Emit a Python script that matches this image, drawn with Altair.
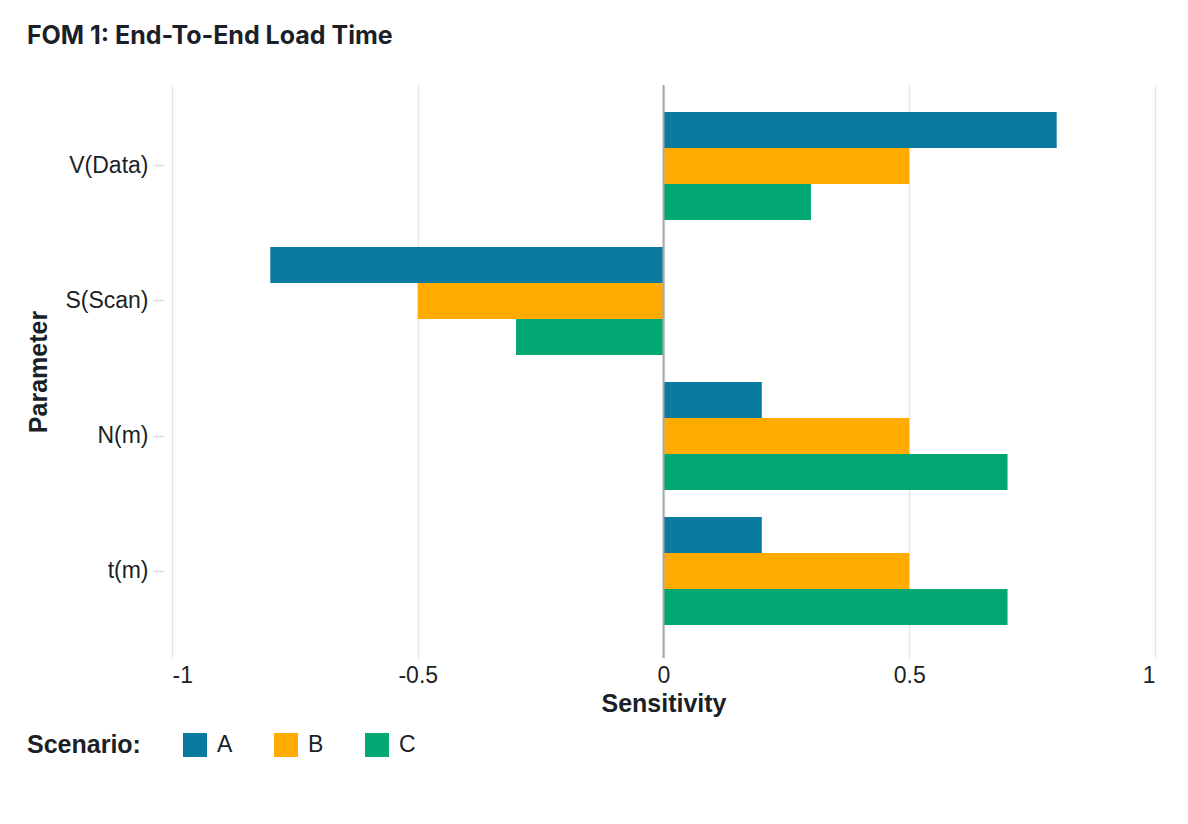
import altair as alt
import pandas as pd

params = ["V(Data)", "S(Scan)", "N(m)", "t(m)"]
scenarios = ["A", "B", "C"]
values_a = [0.8, -0.8, 0.2, 0.2]
values_b = [0.5, -0.5, 0.5, 0.5]
values_c = [0.3, -0.3, 0.7, 0.7]
colors = ["#0b7a9f", "#ffab00", "#02a874"]
x_ticks = [-1, -0.5, 0, 0.5, 1]

rows = []
for s, vals in zip(scenarios, [values_a, values_b, values_c]):
    for p, v in zip(params, vals):
        rows.append({"Parameter": p, "Scenario": s, "Sensitivity": v})
df = pd.DataFrame(rows)

font = "Liberation Sans"
dark = "#1b1f27"

x_enc = alt.X(
    "Sensitivity:Q",
    scale=alt.Scale(domain=[-1, 1], nice=False, zero=False),
    axis=alt.Axis(
        values=x_ticks,
        labelExpr="datum.value + ''",
        labelFlush=True,
        ticks=False,
        domain=False,
        grid=True,
        gridColor="#e6e6e6",
        gridWidth=1.5,
        labelFontSize=23,
        labelFont=font,
        labelColor=dark,
        labelPadding=6,
        title="Sensitivity",
        titleFont=font,
        titleFontSize=25,
        titleFontWeight="bold",
        titleColor=dark,
        titlePadding=4,
    ),
)

bars = alt.Chart(df).mark_bar().encode(
    x=x_enc,
    y=alt.Y(
        "Parameter:N",
        sort=params,
        scale=alt.Scale(paddingInner=0.2, paddingOuter=0.222, align=0.45),
        axis=alt.Axis(
            domain=False,
            grid=False,
            ticks=True,
            tickSize=10,
            tickColor="#dddddd",
            tickWidth=1.5,
            offset=9,
            labelPadding=5,
            labelFontSize=23,
            labelFont=font,
            labelColor=dark,
            title="Parameter",
            titleFont=font,
            titleFontSize=25,
            titleFontWeight="bold",
            titleColor=dark,
            titlePadding=13,
        ),
    ),
    yOffset=alt.YOffset("Scenario:N", sort=scenarios, scale=alt.Scale(paddingInner=0, paddingOuter=0)),
    color=alt.Color(
        "Scenario:N",
        sort=scenarios,
        scale=alt.Scale(domain=scenarios, range=colors),
        legend=alt.Legend(
            orient="none",
            legendX=-145,
            legendY=648,
            direction="horizontal",
            title="Scenario:",
            titleOrient="left",
            titleFont=font,
            titleFontSize=25,
            titleFontWeight="bold",
            titleColor=dark,
            titlePadding=42,
            symbolType="square",
            symbolSize=576,
            symbolStrokeWidth=0,
            symbolOpacity=1,
            labelFont=font,
            labelFontSize=23,
            labelColor=dark,
            labelOffset=10,
            columnPadding=41,
        ),
    ),
)

zero = alt.Chart(pd.DataFrame({"z": [0]})).mark_rule(color="#aaaaaa", strokeWidth=2).encode(
    x=alt.X("z:Q")
)

chart = (
    alt.layer(bars, zero)
    .properties(
        width=983,
        height=573,
        background="white",
        title=alt.TitleParams(
            "FOM 1: End-To-End Load Time",
            anchor="start",
            frame="bounds",
            font="Inter",
            fontSize=25,
            fontWeight="bold",
            color=dark,
            offset=35,
        ),
        padding={"left": 18, "top": 16, "right": 10, "bottom": 10},
    )
    .configure_view(stroke="transparent", strokeWidth=0)
)

chart.save("out.html", embed_options={"renderer": "svg", "actions": False})
